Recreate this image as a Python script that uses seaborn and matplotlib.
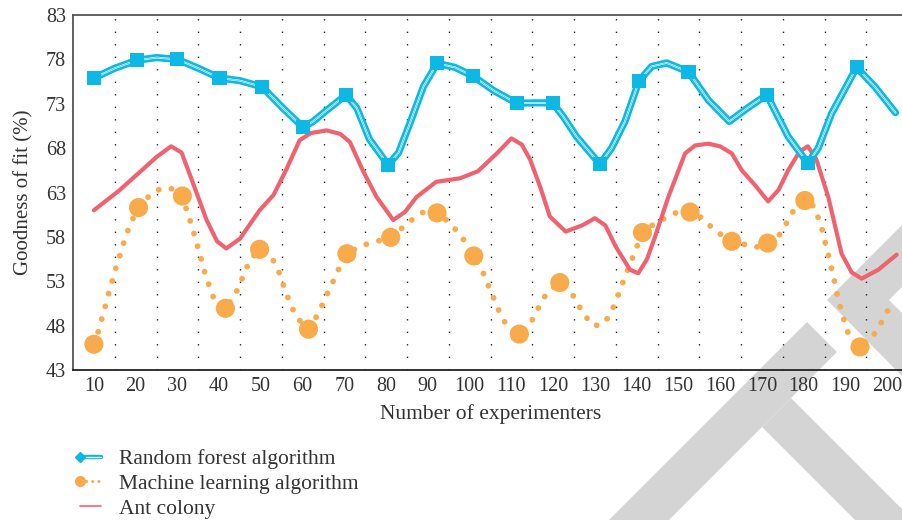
import numpy as np
import pandas as pd
import matplotlib
matplotlib.use("Agg")
import matplotlib.pyplot as plt
import seaborn as sns
from matplotlib.lines import Line2D
from matplotlib.patches import Polygon
from matplotlib.legend_handler import HandlerLine2D

# Random forest algorithm: curve points, markers at a subset
rf_x = [10, 15, 20.3, 25, 30, 35, 40.1, 45, 50.3, 55.3, 60.1, 62.5, 65.6, 70.4, 73, 76,
        80.5, 83, 85.7, 88.9, 92.2, 96.5, 100.9, 105.7, 111.3, 115.5, 119.9, 122.5, 125.6,
        131.2, 134, 137.2, 140.6, 143.6, 147.2, 152.4, 157.2, 162.2, 166.8, 171.2, 176.3,
        181, 183.5, 186.7, 192.7, 197.1, 202]
rf_y = [75.9, 77.0, 77.9, 78.2, 78.0, 77.0, 75.9, 75.6, 74.9, 72.5, 70.35, 71.0, 72.2, 74.0, 72.5, 69.0,
        66.1, 67.5, 70.8, 74.9, 77.55, 77.1, 76.1, 74.5, 73.05, 73.1, 73.1, 71.5, 69.3,
        66.2, 68.0, 71.0, 75.6, 77.2, 77.6, 76.6, 73.4, 71.0, 72.6, 74.0, 69.3,
        66.3, 68.0, 71.9, 77.1, 74.9, 72.0]
rf_mx = [10, 20.3, 30, 40.1, 50.3, 60.1, 70.4, 80.5, 92.2, 100.9, 111.3, 119.9, 131.2,
         140.6, 152.4, 171.2, 181, 192.7]
rf_my = [75.9, 77.9, 78.0, 75.9, 74.9, 70.35, 74.0, 66.1, 77.55, 76.1, 73.05, 73.1, 66.2,
         75.6, 76.6, 74.0, 66.3, 77.1]

# Machine learning algorithm: dotted curve and large markers
ml_x = [10, 11, 11.8, 12.6, 13.4, 14.2, 15, 15.9, 16.8, 17.7, 18.7, 20.7, 23.8, 26.4, 29.2, 31.2,
        32.3, 33.2, 34.1, 34.9, 35.7, 36.5, 37.4, 38.4, 39.5, 41.5, 43.8, 45, 46.2, 47.3, 49.7,
        52.9, 54.2, 55.2, 56.2, 57.3, 58.6, 61.4, 63, 64.4, 65.6, 66.9, 68.1, 69.4, 70.6,
        73.9, 76.7, 81.1, 84.6, 86.9, 89.5, 92.2, 94.7, 96.7, 98.6, 101, 103.2, 104.3, 105.5,
        106.6, 107.9, 109.5, 111.9, 114.1, 115.5, 116.9, 118.4, 121.6, 124.7, 126.2, 127.8,
        129.8, 132.3, 133.9, 135.1, 136.2, 137.2, 139.4, 141.4, 144.6, 149.8, 152.8, 155.4,
        157.7, 160.1, 162.8, 165.5, 168.4, 171.4, 173.6, 175.2, 176.7, 178.1, 180.3, 182.6,
        183.6, 184.5, 185.2, 185.9, 186.6, 187.3, 187.9, 188.6, 189.4, 190.2, 191.4, 193.5,
        195.9, 197.6, 199, 200.5]
ml_y = [45.9, 47.25, 48.6, 50.0, 51.4, 52.7, 54.1, 55.4, 56.8, 58.1, 59.45, 61.3, 62.9, 63.5, 63.4, 62.6,
        60.9, 59.6, 58.2, 56.8, 55.5, 54.1, 52.8, 51.45, 50.25, 49.95, 51.45, 52.7, 54.1, 55.3, 56.6,
        55.4, 54.2, 52.8, 51.5, 50.2, 48.9, 47.6, 48.75, 50.0, 51.3, 52.55, 53.85, 55.1, 56.1,
        57.0, 57.35, 57.95, 59.3, 60.2, 60.95, 60.7, 59.8, 58.8, 57.65, 55.85, 54.0, 52.7, 51.4,
        50.1, 48.8, 47.6, 47.05, 47.9, 49.1, 50.4, 51.6, 52.85, 51.45, 50.2, 49.0,
        47.95, 48.3, 49.5, 50.85, 52.2, 53.5, 56.1, 58.5, 59.6, 60.8, 60.8, 60.2,
        59.2, 58.3, 57.5, 57.2, 56.8, 57.3, 57.8, 59.0, 60.2, 61.4, 62.1, 61.4,
        60.0, 58.7, 57.3, 56.0, 54.6, 53.2, 51.8, 50.4, 49.1, 47.7, 46.4, 45.6,
        46.4, 47.5, 48.7, 50.0]
ml_mx = [10, 20.7, 31.2, 41.5, 49.7, 61.4, 70.6, 81.1, 92.2, 101, 111.9, 121.6,
         141.4, 152.8, 162.8, 171.4, 180.3, 193.5]
ml_my = [45.9, 61.3, 62.6, 49.95, 56.6, 47.6, 56.1, 57.95, 60.7, 55.85, 47.05, 52.85,
         58.5, 60.8, 57.5, 57.3, 62.1, 45.6]

# Ant colony
ac_x = [10, 16, 21, 25, 28.5, 31, 33, 37, 39.5, 41.7, 45, 49.7, 53, 56, 59.3, 62, 65.7, 69, 71.3,
        74.4, 77.7, 81.7, 84.5, 87.3, 92, 97.7, 102, 106.5, 110, 112.5, 114.5, 117, 119.2, 123,
        127, 130, 132.5, 135, 138.4, 140.4, 142.5, 144.4, 147.6, 151.6, 154, 157.2, 160, 162.8,
        165.2, 168.4, 171.5, 174, 176.3, 179, 181, 183, 185.9, 189.1, 191.5, 193.9, 197.9, 202.3]
ac_y = [61.0, 63.2, 65.3, 67.0, 68.2, 67.5, 65.0, 59.9, 57.5, 56.7, 57.8, 61.0, 62.7, 65.5, 68.9, 69.7, 70.0, 69.6, 68.7,
        65.5, 62.5, 59.9, 60.8, 62.5, 64.2, 64.6, 65.4, 67.4, 69.1, 68.4, 66.7, 63.5, 60.3, 58.6,
        59.3, 60.1, 59.3, 56.9, 54.3, 53.9, 55.5, 58.0, 62.5, 67.4, 68.3, 68.5, 68.2, 67.4,
        65.5, 63.8, 62.0, 63.3, 65.5, 67.6, 68.2, 66.8, 62.5, 56.1, 54.0, 53.3, 54.3, 56.0]

x_ticks = list(range(10, 201, 10))
y_ticks = list(range(43, 84, 5))

CYAN = "#0db8e4"
ORANGE = "#f9aa4b"
RED = "#ef6370"
TEXT = "#333333"
W, H = 903, 520


class LeftMarkerHandler(HandlerLine2D):
    # legend line with its marker drawn only at the left end
    def create_artists(self, legend, orig_handle, xdescent, ydescent, width, height,
                       fontsize, trans):
        artists = super().create_artists(legend, orig_handle, xdescent, ydescent, width,
                                         height, fontsize, trans)
        for a in artists:
            a.set_markevery([0])
        return artists


sns.set_theme(style="white")
plt.rcParams["font.family"] = ["Liberation Serif", "DejaVu Serif"]

fig = plt.figure(figsize=(W / 100, H / 100), dpi=100)

# light grey publisher watermark behind the chart (pixel outlines)
stamp = [
    [(827, 300), (903, 224), (903, 286), (889, 300), (903, 314), (903, 377)],
    [(807, 322), (837, 352), (669, 520), (609, 520)],
    [(791, 398), (913, 520), (855, 520), (762, 427)],
]
for poly in stamp:
    fig.add_artist(Polygon([(px / W, 1 - py / H) for px, py in poly], closed=True,
                           transform=fig.transFigure, facecolor="#d4d4d4",
                           edgecolor="none", zorder=-1))

ax = fig.add_axes([73 / W, 1 - 370 / H, 835 / W, 355 / H])
ax.set_facecolor("none")

rf = pd.DataFrame({"x": rf_x, "y": rf_y})
ml = pd.DataFrame({"x": ml_x, "y": ml_y})
ac = pd.DataFrame({"x": ac_x, "y": ac_y})

# vertical dotted grid between categories
for gx in np.arange(15, 200, 10):
    ax.axvline(gx, color="#222222", lw=1.0, ls=(0, (1, 8)), zorder=0)

sns.lineplot(data=ml, x="x", y="y", ax=ax, color=ORANGE, lw=4.2, sort=False, zorder=2)
ax.lines[-1].set_linestyle((0, (0.01, 2.25)))
ax.lines[-1].set_dash_capstyle("round")
sns.scatterplot(x=ml_mx, y=ml_my, ax=ax, color=ORANGE, s=190, edgecolor="none", zorder=3)

sns.lineplot(data=ac, x="x", y="y", ax=ax, color=RED, lw=3.0, sort=False, zorder=4)

sns.lineplot(data=rf, x="x", y="y", ax=ax, color=CYAN, lw=5.2, sort=False, zorder=5)
ax.lines[-1].set_solid_capstyle("round")
sns.lineplot(data=rf, x="x", y="y", ax=ax, color="white", lw=1.3, sort=False, zorder=6)
sns.lineplot(data=rf, x="x", y="y", ax=ax, color=CYAN, lw=0.4, sort=False, zorder=6)
sns.scatterplot(x=rf_mx, y=rf_my, ax=ax, color=CYAN, marker="s", s=105, edgecolor="none", zorder=7)

ax.set_xlim(5, 205)
ax.set_ylim(43, 83)
ax.set_xticks(x_ticks)
ax.set_yticks(y_ticks)
ax.tick_params(axis="both", labelsize=14.5, colors=TEXT, length=0, pad=5)
ax.set_xlabel("Number of experimenters", fontsize=15.5, color=TEXT, labelpad=6)
ax.set_ylabel("Goodness of fit (%)", fontsize=15, color=TEXT, labelpad=9)

for side in ["top", "left", "bottom"]:
    ax.spines[side].set_color("#555555")
    ax.spines[side].set_linewidth(1.3)
ax.spines["bottom"].set_color("#222222")
ax.spines["right"].set_visible(False)

handles = [
    (Line2D([], [], color=CYAN, lw=3.2), Line2D([], [], color="white", lw=0.9),
     Line2D([], [], color=CYAN, lw=0, marker="D", markersize=5)),
    Line2D([], [], color=ORANGE, lw=2.2, ls=(0, (0.01, 2.0)), dash_capstyle="round",
           marker="o", markersize=7),
    Line2D([], [], color=RED, lw=1.2),
]
labels = ["Random forest algorithm", "Machine learning algorithm", "Ant colony"]
fig.legend(handles, labels, loc="upper left", bbox_to_anchor=(74 / W, 1 - 449 / H),
           frameon=False, fontsize=15.5, handlelength=1.55, handletextpad=0.55,
           labelspacing=0.22, borderpad=0, borderaxespad=0, numpoints=2,
           labelcolor=TEXT, handler_map={Line2D: LeftMarkerHandler()})

fig.savefig("out.png", dpi=100)
